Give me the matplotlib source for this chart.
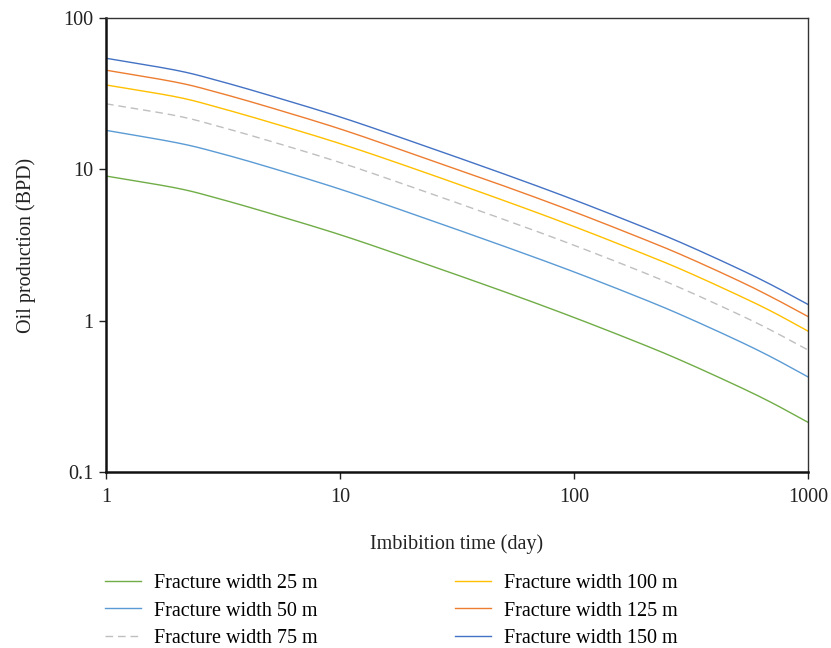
import numpy as np
import matplotlib
matplotlib.use("Agg")
import matplotlib.pyplot as plt

plt.rcParams['font.family'] = ['Liberation Serif', 'DejaVu Serif']

# Data (log-log)
days = [1, 2, 3, 5, 10, 20, 50, 100, 200, 300, 500, 700, 1000]
w25 = [9.03, 7.52, 6.43, 5.13, 3.70, 2.57, 1.56, 1.05, 0.69, 0.53, 0.37, 0.287, 0.213]
w50 = [18.1, 15.0, 12.9, 10.3, 7.40, 5.13, 3.11, 2.10, 1.38, 1.06, 0.74, 0.573, 0.425]
w75 = [27.1, 22.6, 19.3, 15.4, 11.1, 7.70, 4.67, 3.15, 2.07, 1.59, 1.11, 0.86, 0.64]
w100 = [36.1, 30.1, 25.7, 20.5, 14.8, 10.3, 6.23, 4.19, 2.75, 2.12, 1.48, 1.15, 0.853]
w125 = [45.2, 37.6, 32.2, 25.7, 18.5, 12.8, 7.78, 5.24, 3.44, 2.65, 1.85, 1.43, 1.065]
w150 = [54.2, 45.1, 38.6, 30.8, 22.2, 15.4, 9.34, 6.29, 4.13, 3.18, 2.22, 1.72, 1.28]

labels = ["Fracture width 25 m", "Fracture width 50 m", "Fracture width 75 m",
          "Fracture width 100 m", "Fracture width 125 m", "Fracture width 150 m"]
colors = ["#70AD47", "#5B9BD5", "#BFBFBF", "#FFC000", "#ED7D31", "#4472C4"]
styles = ["-", "-", (0, (5.5, 3.5)), "-", "-", "-"]


def smooth(xs, ys, n=30):
    # Catmull-Rom through the points, like Excel's smoothed line
    p = np.column_stack([xs, ys])
    p = np.vstack([2 * p[0] - p[1], p, 2 * p[-1] - p[-2]])
    out = []
    t = np.linspace(0, 1, n, endpoint=False)[:, None]
    for i in range(1, len(p) - 2):
        p0, p1, p2, p3 = p[i - 1], p[i], p[i + 1], p[i + 2]
        seg = 0.5 * ((2 * p1) + (-p0 + p2) * t + (2 * p0 - 5 * p1 + 4 * p2 - p3) * t ** 2
                     + (-p0 + 3 * p1 - 3 * p2 + p3) * t ** 3)
        out.append(seg)
    out.append(p[-2][None, :])
    out = np.vstack(out)
    return out[:, 0], out[:, 1]


fig = plt.figure(figsize=(8.31, 6.48), dpi=100)
ax = fig.add_axes([106 / 831, 1 - 472 / 648, 702 / 831, 454 / 648])

lx = np.log10(days)
for vals, lab, col, ls in zip([w25, w50, w75, w100, w125, w150], labels, colors, styles):
    sx, sy = smooth(lx, np.log10(vals))
    ax.plot(10 ** sx, 10 ** sy, color=col, lw=1.0, ls=ls, label=lab)

ax.set_xscale('log')
ax.set_yscale('log')
ax.set_xlim(1, 1000)
ax.set_ylim(0.1, 100)
ax.set_xticks([1, 10, 100, 1000])
ax.set_xticklabels(["1", "10", "100", "1000"])
ax.set_yticks([0.1, 1, 10, 100])
ax.set_yticklabels(["0.1", "1", "10", "100"])
ax.minorticks_off()
ax.tick_params(direction='out', length=5, width=1, labelsize=14.5, colors='#222222')
ax.tick_params(axis='x', pad=6.5)
ax.tick_params(axis='y', pad=4)

for s in ['left', 'bottom']:
    ax.spines[s].set_linewidth(1.8)
    ax.spines[s].set_color('#111111')
for s in ['top', 'right']:
    ax.spines[s].set_linewidth(1.0)
    ax.spines[s].set_color('#333333')

ax.set_xlabel("Imbibition time (day)", fontsize=14.5, labelpad=20, color='#222222')
ax.set_ylabel("Oil production (BPD)", fontsize=14.5, labelpad=20, color='#222222')

fig.legend(loc='upper left', bbox_to_anchor=(97 / 831, 1 - 566 / 648), ncol=2,
           frameon=False, fontsize=14.5, handlelength=1.8, handletextpad=0.65,
           columnspacing=6.8, labelspacing=0.41, borderaxespad=0)

fig.savefig("out.png", dpi=100)
